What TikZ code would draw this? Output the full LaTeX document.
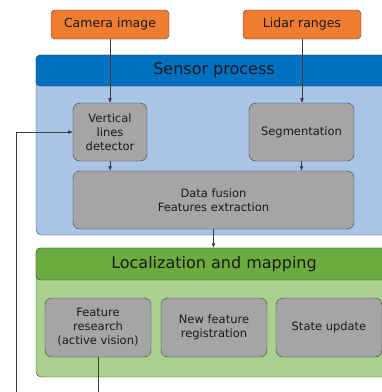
\documentclass[tikz,border=0pt]{standalone}
\usepackage{fontspec}
\setmainfont{DejaVu Sans}
\usetikzlibrary{arrows.meta}
\definecolor{inorange}{HTML}{EE7D32}
\definecolor{sensblue}{HTML}{0070C0}
\definecolor{sensbody}{HTML}{A8C4E7}
\definecolor{locgreen}{HTML}{6CAC3F}
\definecolor{locbody}{HTML}{A9D08E}
\definecolor{boxgray}{HTML}{A5A5A5}
\definecolor{edgegray}{HTML}{3C3C3C}
\definecolor{textdark}{HTML}{1A1A1A}
\begin{document}
\begin{tikzpicture}[x=1pt,y=-1pt]
            \tikzstyle{every node}+=[inner sep=0pt, text=textdark]
            \tikzstyle{inbox}=[draw=edgegray, fill=inorange, rounded corners=4pt, minimum width=118pt, minimum height=29pt, font=\fontsize{12.5}{15}\selectfont]
            \tikzstyle{header}=[draw=edgegray, rounded corners=4pt, minimum width=356pt, font=\fontsize{16}{19}\selectfont]
            \tikzstyle{procbox}=[draw=edgegray, fill=boxgray, rounded corners=7pt, align=center, minimum height=58pt, font=\fontsize{11.5}{14}\selectfont]
            \tikzstyle{flow}=[draw=edgegray, line width=0.6pt, -{Latex[length=4.5pt,width=4pt]}]
                \useasboundingbox (0,0) rectangle (382,392);
                \clip (0,0) rectangle (382,392);
                % inputs
                \node [inbox] (camera) at (110,24.5) {Camera image};
                \node [inbox] (lidar) at (302,24.5) {Lidar ranges};
                % sensor process
                \draw [draw=edgegray, fill=sensbody, rounded corners=5pt] (36,55) rectangle (392,235);
                \node [header, fill=sensblue, minimum height=31pt] (sensor) at (214,70.5) {Sensor process};
                \node [procbox, minimum width=74pt] (vld) at (110,132) {Vertical\\lines\\detector};
                \node [procbox, minimum width=105pt] (seg) at (301.5,132) {Segmentation};
                \node [procbox, minimum width=281pt] (fusion) at (213.5,200) {Data fusion\\Features extraction};
                % localization and mapping
                \draw [draw=edgegray, fill=locbody, rounded corners=5pt] (36,248) rectangle (392,377);
                \node [header, fill=locgreen, minimum height=32pt] (loc) at (214,264) {Localization and mapping};
                \node [procbox, minimum width=106pt, minimum height=59pt] (research) at (98,327.5) {Feature\\research\\(active vision)};
                \node [procbox, minimum width=106pt, minimum height=59pt] (newreg) at (214,327.5) {New feature\\registration};
                \node [procbox, minimum width=106pt, minimum height=59pt] (state) at (329,327.5) {State update};
                % connectors
                \draw [flow] (camera.south) -- (camera.south |- vld.north);
                \draw [flow] (lidar.south) -- (lidar.south |- seg.north);
                \draw [flow] (vld.south) -- (vld.south |- fusion.north);
                \draw [flow] (seg.south) -- (seg.south |- fusion.north);
                \draw [flow] (fusion.south) -- (fusion.south |- loc.north);
                % feedback loop
                \coordinate (loopcorner) at (16,402);
                \draw [flow] (research.south) |- (loopcorner) |- (vld.west);
            \end{tikzpicture}
\end{document}
